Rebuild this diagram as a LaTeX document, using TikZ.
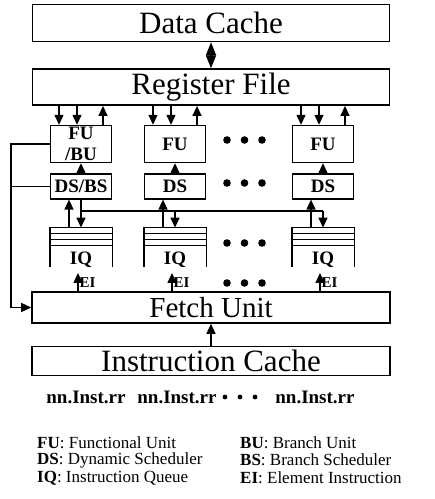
\documentclass[tikz,border=0pt]{standalone}
\usepackage{fontspec}
\setmainfont{Liberation Serif}
\usetikzlibrary{arrows.meta, positioning, calc}

\begin{document}
\begin{tikzpicture}[x=1pt, y=1pt,
    bigbox/.style={rectangle, draw, line width=1.6pt, inner sep=0pt, minimum width=357pt, font=\fontsize{31}{31}\selectfont},
    unit/.style={rectangle, draw, line width=1.4pt, inner sep=0pt, minimum width=61pt, align=center, font=\bfseries\fontsize{19}{21}\selectfont},
    queue/.style={inner sep=0pt, minimum width=62pt, minimum height=39pt, text height=36pt, text depth=1pt, font=\bfseries\fontsize{19}{19}\selectfont},
    arrow/.style={line width=1.4pt, -{Triangle[length=10pt,width=9pt]}},
    link/.style={line width=1.4pt},
    both/.style={line width=1.4pt, {Triangle[length=13pt,width=10pt]}-{Triangle[length=13pt,width=10pt]}},
    ei/.style={inner sep=1pt, font=\bfseries\fontsize{15}{15}\selectfont},
    inst/.style={inner sep=0pt, font=\bfseries\fontsize{19}{19}\selectfont},
    legend/.style={anchor=west, inner sep=0pt, font=\fontsize{17}{17}\selectfont}]
    \useasboundingbox (0,0) rectangle (435,499);

    \node [bigbox, minimum height=37pt] (dc) at (211,476) {Data Cache};
    \node [bigbox, minimum height=36pt, below=26pt of dc] (rf) {Register File};

    \node [unit, minimum height=37pt] (fu1) at (81,355) {FU\\/BU};
    \node [unit, minimum height=37pt] (fu2) at (175,355) {FU};
    \node [unit, minimum height=37pt] (fu3) at (323,355) {FU};
    \node [unit, minimum height=25pt, below=10pt of fu1] (ds1) {DS/BS};
    \node [unit, minimum height=25pt, below=10pt of fu2] (ds2) {DS};
    \node [unit, minimum height=25pt, below=10pt of fu3] (ds3) {DS};
    \node [queue, below=28pt of ds1] (iq1) {IQ};
    \node [queue, below=28pt of ds2] (iq2) {IQ};
    \node [queue, below=28pt of ds3] (iq3) {IQ};

    \node [bigbox, minimum width=358pt, minimum height=31pt, font=\fontsize{29}{29}\selectfont] (fetch) at (211,191.5) {Fetch Unit};
    \node [bigbox, minimum width=358pt, minimum height=29pt, below=22pt of fetch] (ic) {Instruction Cache};

    \node [inst] (op1) at (86,102) {nn.Inst.rr};
    \node [inst] (op2) at (177,102) {nn.Inst.rr};
    \node [inst] (op3) at (315,102) {nn.Inst.rr};

    \node [legend] (lfu) at (37,56) {\textbf{FU}: Functional Unit};
    \node [legend] (lds) at (37,39) {\textbf{DS}: Dynamic Scheduler};
    \node [legend] (liq) at (37,21) {\textbf{IQ}: Instruction Queue};
    \node [legend] (lbu) at (240,56) {\textbf{BU}: Branch Unit};
    \node [legend] (lbs) at (240,39) {\textbf{BS}: Branch Scheduler};
    \node [legend] (lei) at (240,21) {\textbf{EI}: Element Instruction};

    \foreach \q in {iq1,iq2,iq3} {
        \draw [line width=1.4pt] (\q.south west) |- (\q.north east) -- (\q.south east);
        \draw [line width=0.9pt] ([yshift=-6pt]\q.north west) -- ([yshift=-6pt]\q.north east);
        \draw [line width=0.9pt] ([yshift=-12pt]\q.north west) -- ([yshift=-12pt]\q.north east);
        \draw [line width=0.9pt] ([yshift=-18pt]\q.north west) -- ([yshift=-18pt]\q.north east);
    }

    \draw [both] (dc) -- (rf);

    \draw [arrow] ([xshift=-22pt]fu1.north |- rf.south) -- ([xshift=-22pt]fu1.north);
    \draw [arrow] ([xshift=-4pt]fu1.north |- rf.south) -- ([xshift=-4pt]fu1.north);
    \draw [arrow] ([xshift=22pt]fu1.north) -- ([xshift=22pt]fu1.north |- rf.south);
    \draw [arrow] ([xshift=-22pt]fu2.north |- rf.south) -- ([xshift=-22pt]fu2.north);
    \draw [arrow] ([xshift=-4pt]fu2.north |- rf.south) -- ([xshift=-4pt]fu2.north);
    \draw [arrow] ([xshift=22pt]fu2.north) -- ([xshift=22pt]fu2.north |- rf.south);
    \draw [arrow] ([xshift=-22pt]fu3.north |- rf.south) -- ([xshift=-22pt]fu3.north);
    \draw [arrow] ([xshift=-4pt]fu3.north |- rf.south) -- ([xshift=-4pt]fu3.north);
    \draw [arrow] ([xshift=22pt]fu3.north) -- ([xshift=22pt]fu3.north |- rf.south);

    \draw [arrow] (ds1) -- (fu1);
    \draw [arrow] (ds2) -- (fu2);
    \draw [arrow] (ds3) -- (fu3);

    \draw [arrow] ([xshift=-12pt]iq1.north) -- ([xshift=-12pt]iq1.north |- ds1.south);
    \draw [arrow] ([xshift=-12pt]iq2.north) -- ([xshift=-12pt]iq2.north |- ds2.south);
    \draw [arrow] ([xshift=-12pt]iq3.north) -- ([xshift=-12pt]iq3.north |- ds3.south);

    \coordinate (bus) at (0,288);
    \draw [arrow] (ds1) -- (iq1);
    \draw [link] (iq1.north |- bus) -- (iq3.north |- bus);
    \draw [arrow] (iq2.north |- bus) -- (iq2.north);
    \draw [arrow] (iq3.north |- bus) -- (iq3.north);

    \draw [arrow, shorten >=6pt] ([xshift=-3pt]iq1.south |- fetch.north) -- ([xshift=-3pt]iq1.south) node [ei, pos=0.35, right] (ei1) {EI};
    \draw [arrow, shorten >=6pt] ([xshift=-3pt]iq2.south |- fetch.north) -- ([xshift=-3pt]iq2.south) node [ei, pos=0.35, right] (ei2) {EI};
    \draw [arrow, shorten >=6pt] ([xshift=-3pt]iq3.south |- fetch.north) -- ([xshift=-3pt]iq3.south) node [ei, pos=0.35, right] (ei3) {EI};

    \coordinate (fb) at (11,0);
    \draw [arrow] (fu1.west) -| (fb |- fetch.west) -- (fetch.west);
    \draw [link] (ds1.west) -- (ds1.west -| fb);

    \draw [arrow] (ic) -- (fetch);

    \foreach \y in {359,316,256,216} {
        \fill (227,\y) circle (3.8pt);
        \fill (244.5,\y) circle (3.8pt);
        \fill (262,\y) circle (3.8pt);
    }
    \fill (225,102) circle (2.4pt);
    \fill (240,102) circle (2.4pt);
    \fill (255,102) circle (2.4pt);
\end{tikzpicture}
\end{document}
